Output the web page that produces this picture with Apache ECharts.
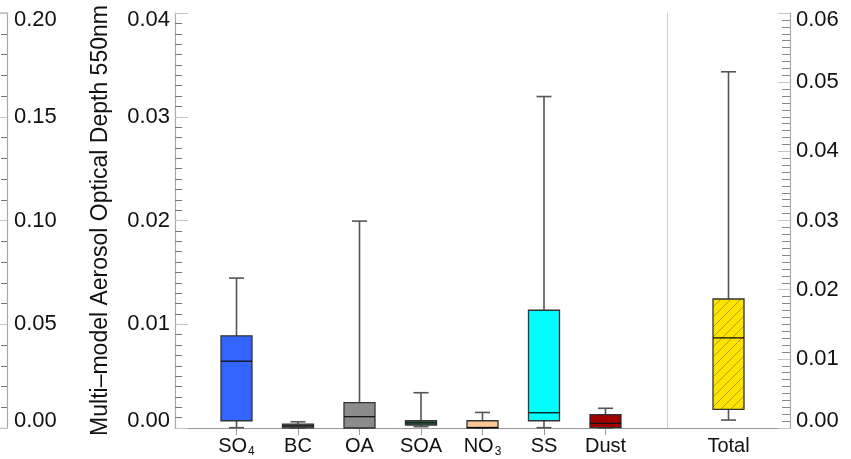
<!DOCTYPE html>
<html>
<head>
<meta charset="utf-8">
<script src="https://cdn.jsdelivr.net/npm/echarts@6/dist/echarts.min.js"></script>
<style>html,body{margin:0;padding:0;background:#fff;}#chart{width:851px;height:459px;}</style>
</head>
<body>
<div id="chart"></div>
<script>
// ---- data ----
const categories = ['', 'SO4', 'BC', 'OA', 'SOA', 'NO3', 'SS', 'Dust', ' ', 'Total', '  '];
const species = ['SO4', 'BC', 'OA', 'SOA', 'NO3', 'SS', 'Dust'];
const speciesColors = ['#3264ff', '#6a6a6a', '#8c8c8c', '#2a7a50', '#ffc896', '#00ffff', '#a00000'];
const minVals = [0.00003, 0.0,     0.0,     0.00013, 0.0,     0.00003, 0.0];
const q1Vals  = [0.0007,  0.00002, 0.0,     0.00029, 0.0,     0.0007,  0.00003];
const medVals = [0.00644, 0.0002,  0.00109, 0.0005,  0.00005, 0.00147, 0.00045];
const q3Vals  = [0.00888, 0.00038, 0.00244, 0.0007,  0.0007,  0.01135, 0.00128];
const maxVals = [0.01445, 0.0006,  0.01994, 0.0034,  0.0015,  0.03195, 0.0019];
const totalName = 'Total';
const totalStats = [0.00115, 0.0027, 0.01303, 0.01865, 0.0515]; // min, q1, median, q3, max
const leftTicks = { min: 0, max: 0.20, interval: 0.05 };
const midTicks = { min: 0, max: 0.04, interval: 0.01 };
const rightTicks = { min: 0, max: 0.06, interval: 0.01 };
const yTitle = 'Multi\u2013model Aerosol Optical Depth 550nm';

const FONT = "'Liberation Sans', Arial, Helvetica, sans-serif";

// hatch pattern for Total
function makeHatch() {
  const T = 10;
  const c = document.createElement('canvas');
  c.width = T; c.height = T;
  const g = c.getContext('2d');
  g.fillStyle = '#ffe400';
  g.fillRect(0, 0, T, T);
  g.strokeStyle = '#a8951a';
  g.lineWidth = 0.9;
  g.beginPath();
  g.moveTo(0, T); g.lineTo(T, 0);
  g.moveTo(-T/2, T/2); g.lineTo(T/2, -T/2);
  g.moveTo(T/2, T + T/2); g.lineTo(T + T/2, T/2);
  g.stroke();
  return c;
}
const hatch = makeHatch();

function renderBox(params, api) {
  const x = api.value(0);
  const pMin = api.coord([x, api.value(1)]);
  const pQ1 = api.coord([x, api.value(2)]);
  const pMed = api.coord([x, api.value(3)]);
  const pQ3 = api.coord([x, api.value(4)]);
  const pMax = api.coord([x, api.value(5)]);
  const cx = pMin[0];
  const hw = 15.5, cw = 7.5;
  const whisk = { stroke: '#555', lineWidth: 1.6 };
  const fillColor = api.visual('color');
  const isTotal = params.seriesName === 'total';
  return {
    type: 'group',
    children: [
      { type: 'line', shape: { x1: cx, y1: pMax[1], x2: cx, y2: pQ3[1] }, style: whisk },
      { type: 'line', shape: { x1: cx, y1: pQ1[1], x2: cx, y2: pMin[1] }, style: whisk },
      { type: 'line', shape: { x1: cx - cw, y1: pMax[1], x2: cx + cw, y2: pMax[1] }, style: whisk },
      { type: 'line', shape: { x1: cx - cw, y1: pMin[1], x2: cx + cw, y2: pMin[1] }, style: whisk },
      { type: 'rect', shape: { x: cx - hw, y: pQ3[1], width: 2 * hw, height: pQ1[1] - pQ3[1] },
        style: { fill: isTotal ? { image: hatch, repeat: 'repeat' } : fillColor, stroke: '#333', lineWidth: 1.3 } },
      { type: 'line', shape: { x1: cx - hw, y1: pMed[1], x2: cx + hw, y2: pMed[1] }, style: { stroke: '#111', lineWidth: 1.3 } }
    ]
  };
}

const speciesData = species.map((s, i) => ({
  value: [categories.indexOf(s), minVals[i], q1Vals[i], medVals[i], q3Vals[i], maxVals[i]],
  itemStyle: { color: speciesColors[i] }
}));
const totalData = [{ value: [categories.indexOf(totalName)].concat(totalStats), itemStyle: { color: '#ffe400' } }];

function endLabel(ticks, decimals) {
  return function (v) {
    const s = v.toFixed(decimals);
    if (Math.abs(v - ticks.min) < 1e-9) return '{lo|' + s + '}';
    if (Math.abs(v - ticks.max) < 1e-9) return '{hi|' + s + '}';
    return '{m|' + s + '}';
  };
}
const LF = 22;
const labelRich = {
  m: { fontSize: LF, fontFamily: FONT, color: '#111' },
  lo: { fontSize: LF, fontFamily: FONT, color: '#111', padding: [0, 0, 14, 0] },
  hi: { fontSize: LF, fontFamily: FONT, color: '#111', padding: [13, 0, 0, 0] }
};

const chart = echarts.init(document.getElementById('chart'), null, { renderer: 'canvas' });
chart.setOption({
  animation: false,
  backgroundColor: '#fff',
  grid: { left: 175, right: 61, top: 13, bottom: 31, containLabel: false },
  xAxis: [
    {
      type: 'category', data: categories, boundaryGap: false, position: 'bottom',
      axisLine: { lineStyle: { color: '#dcdcdc', width: 1 } },
      axisTick: { show: false },
      splitLine: { show: true, interval: (i) => i === 8, lineStyle: { color: '#cfcfcf', width: 1 } },
      axisLabel: {
        interval: 0, margin: 8, color: '#111', fontFamily: FONT, fontSize: 20,
        formatter: function (v) {
          if (v === 'SO4') return '{n|SO}{s|4}';
          if (v === 'NO3') return '{n|NO}{s|3}';
          return '{n|' + v + '}';
        },
        rich: {
          n: { fontSize: 20, fontFamily: FONT, color: '#111', verticalAlign: 'top', lineHeight: 23 },
          s: { fontSize: 12, fontFamily: FONT, color: '#111', verticalAlign: 'top', lineHeight: 23, padding: [10, 0, 0, 1] }
        }
      }
    },
    {
      type: 'category', data: categories, boundaryGap: false, position: 'top',
      axisLine: { lineStyle: { color: '#999', width: 1.2 } },
      axisTick: { show: true, inside: true, length: 7, interval: (i) => i >= 1 && i <= 7, lineStyle: { color: '#999' } },
      axisLabel: { show: false },
      splitLine: { show: false }
    }
  ],
  yAxis: [
    {
      type: 'value', position: 'left', min: midTicks.min, max: midTicks.max, interval: midTicks.interval,
      name: yTitle, nameLocation: 'middle', nameGap: 63, nameRotate: 90,
      nameTextStyle: { fontSize: 23, fontFamily: FONT, color: '#111' },
      axisLine: { show: true, lineStyle: { color: '#aaa', width: 1.2 } },
      axisTick: { show: true, inside: true, length: 13, lineStyle: { color: '#c4c4c4' } },
      minorTick: { show: true, splitNumber: 10, length: 7, lineStyle: { color: '#777' } },
      splitLine: { show: false },
      axisLabel: { margin: 5, formatter: endLabel(midTicks, 2), rich: labelRich }
    },
    {
      type: 'value', position: 'left', offset: 168, min: leftTicks.min, max: leftTicks.max, interval: leftTicks.interval,
      axisLine: { show: true, lineStyle: { color: '#aaa', width: 1.2 } },
      axisTick: { show: true, inside: false, length: 8, lineStyle: { color: '#c4c4c4' } },
      minorTick: { show: true, splitNumber: 5, length: 6, lineStyle: { color: '#777' } },
      splitLine: { show: false },
      axisLabel: { inside: true, margin: 7, formatter: endLabel(leftTicks, 2), rich: labelRich }
    },
    {
      type: 'value', position: 'right', min: rightTicks.min, max: rightTicks.max, interval: rightTicks.interval,
      axisLine: { show: true, lineStyle: { color: '#aaa', width: 1.2 } },
      axisTick: { show: true, inside: true, length: 12, lineStyle: { color: '#c4c4c4' } },
      minorTick: { show: true, splitNumber: 10, length: 8, lineStyle: { color: '#888' } },
      splitLine: { show: false },
      axisLabel: { margin: 6, formatter: endLabel(rightTicks, 2), rich: labelRich }
    }
  ],
  graphic: [
    { type: 'line', shape: { x1: 0, y1: 13, x2: 7, y2: 13 }, style: { stroke: '#aaa', lineWidth: 1.2 } },
    { type: 'line', shape: { x1: 0, y1: 428, x2: 7, y2: 428 }, style: { stroke: '#ddd', lineWidth: 1 } }
  ],
  series: [
    {
      name: 'species', type: 'custom', xAxisIndex: 0, yAxisIndex: 0,
      renderItem: renderBox, encode: { x: 0, y: [1, 2, 3, 4, 5] }, data: speciesData, clip: false
    },
    {
      name: 'total', type: 'custom', xAxisIndex: 0, yAxisIndex: 2,
      renderItem: renderBox, encode: { x: 0, y: [1, 2, 3, 4, 5] }, data: totalData, clip: false
    }
  ]
});
</script>
</body>
</html>
